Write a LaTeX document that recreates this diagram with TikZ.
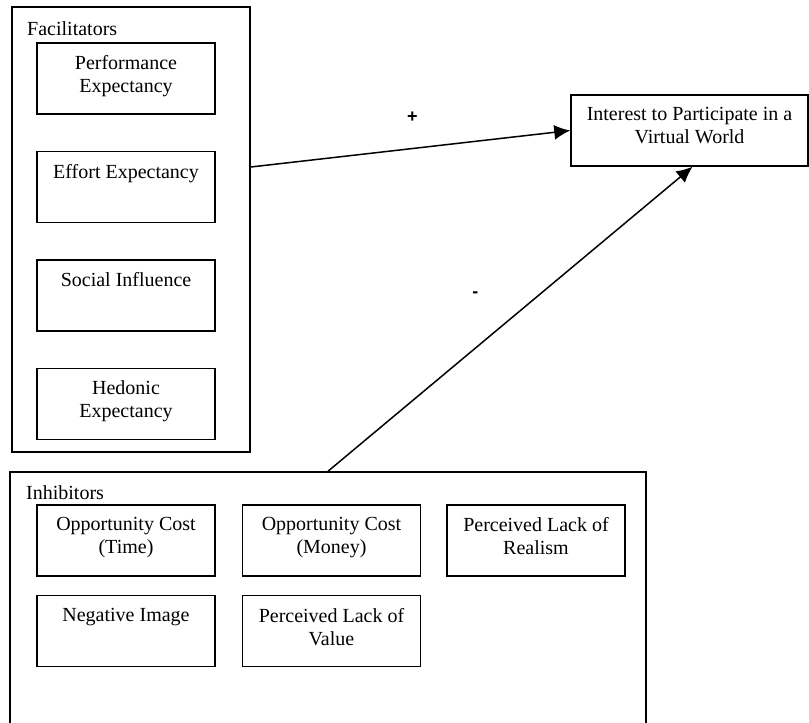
\documentclass[tikz,border=0pt]{standalone}
\usepackage{fontspec}
\setmainfont{Liberation Serif}
\newfontfamily\signfont{Liberation Sans}
\usepackage{tikz}
\usetikzlibrary{arrows.meta, positioning}
\tikzstyle{group} = [rectangle, draw=black, line width=1.5pt, inner sep=0pt]
\tikzstyle{factor} = [rectangle, draw=black, line width=1.5pt, minimum width=178pt, minimum height=71pt, inner sep=0pt]
\tikzstyle{factortext} = [anchor=north, align=center, inner sep=0pt, yshift=-13pt, font=\fontsize{20}{23}\selectfont]
\tikzstyle{grouptitle} = [anchor=base west, inner sep=0pt, font=\fontsize{20}{23}\selectfont]
\tikzstyle{sign} = [font=\signfont\bfseries\fontsize{18}{18}\selectfont]
\tikzstyle{arrow} = [line width=1.5pt, -{Latex[length=16pt, width=15pt]}]

\begin{document}
\begin{tikzpicture}[x=1pt, y=-1pt, node distance=36pt]
        \useasboundingbox (0,0) rectangle (809,723);
        \clip (0,0) rectangle (809,723);

        % Facilitators
        \node [group, minimum width=238pt, minimum height=445pt] (facil) at (131,229.5) {};
        \node [grouptitle] (facil_title) at (27,35) {Facilitators};
        \node [factor, label={[factortext]north:{Performance\\Expectancy}}] (perf) at (126,78.5) {};
        \node [factor, below=of perf, label={[factortext]north:Effort Expectancy}] (effort) {};
        \node [factor, below=of effort, label={[factortext]north:Social Influence}] (social) {};
        \node [factor, below=of social, label={[factortext]north:{Hedonic\\Expectancy}}] (hedonic) {};

        % Inhibitors
        \node [group, minimum width=636pt, minimum height=268pt] (inhib) at (328,606) {};
        \node [grouptitle] (inhib_title) at (26,499) {Inhibitors};
        \node [factor, label={[factortext]north:{Opportunity Cost\\(Time)}}] (cost_time) at (126,540.5) {};
        \node [factor, right=26pt of cost_time, label={[factortext]north:{Opportunity Cost\\(Money)}}] (cost_money) {};
        \node [factor, right=25pt of cost_money, label={[factortext]north:{Perceived Lack of\\Realism}}] (realism) {};
        \node [factor, below=18pt of cost_time, label={[factortext]north:Negative Image}] (neg_image) {};
        \node [factor, below=18pt of cost_money, label={[factortext]north:{Perceived Lack of\\Value}}] (value) {};

        % Outcome
        \node [factor, minimum width=237pt, label={[factortext]north:{Interest to Participate in a\\Virtual World}}] (interest) at (689.5,130.5) {};

        % Arrows
        \draw [arrow] ([yshift=62.5pt]facil.east) -- (interest.west) node[sign, midway, xshift=2pt, yshift=32pt] {+};
        \draw [arrow] (inhib.north) -- ([xshift=3pt]interest.south) node[sign, midway, xshift=-35pt, yshift=24pt] {-};
    \end{tikzpicture}
\end{document}
